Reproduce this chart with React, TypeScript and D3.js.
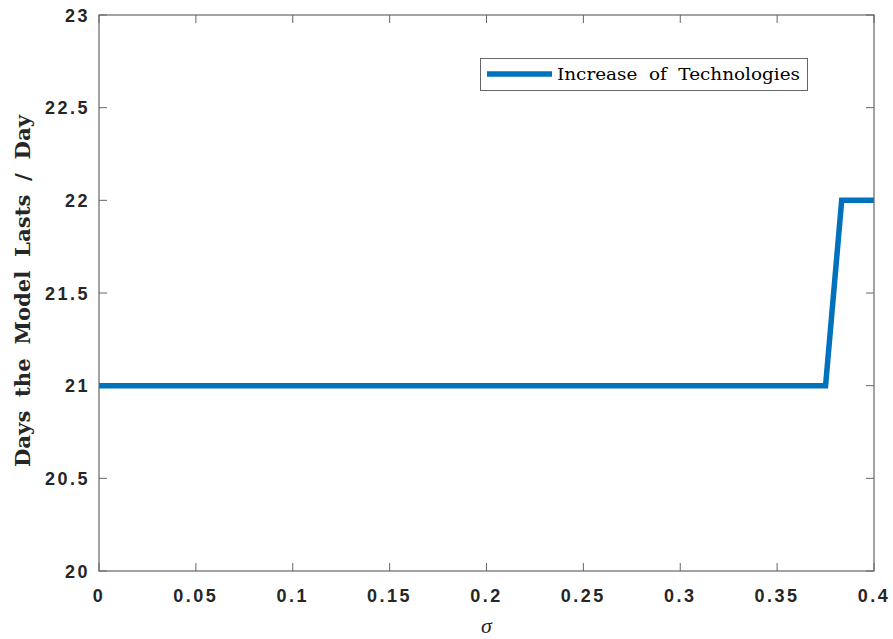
import * as d3 from 'd3';
import { useEffect, useRef } from 'react';

const sigma = [0, 0.375, 0.38333, 0.4];
const days = [21, 21, 22, 22];
const xTicks = [0, 0.05, 0.1, 0.15, 0.2, 0.25, 0.3, 0.35, 0.4];
const yTicks = [20, 20.5, 21, 21.5, 22, 22.5, 23];
const seriesName = 'Increase of Technologies';

const App = () => {
  const svgRef = useRef<any>();
  const width = 893;
  const height = 639;
  const marginLeft = 99;
  const marginRight = 19;
  const marginTop = 15;
  const marginBottom = 68;
  const plotW = width - marginLeft - marginRight;
  const plotH = height - marginTop - marginBottom;

  useEffect(() => {
    const svg = d3.select(svgRef.current);
    svg.selectAll('*').remove();

    const x = d3.scaleLinear().domain([0, 0.4]).range([marginLeft, marginLeft + plotW]);
    const y = d3.scaleLinear().domain([20, 23]).range([marginTop + plotH, marginTop]);
    const axisColor = '#666666';
    const textColor = '#262626';
    const tickLen = 8;

    svg.append('rect').attr('width', width).attr('height', height).attr('fill', '#ffffff');

    // ticks on all four sides, pointing inward
    const g = svg.append('g').attr('stroke', axisColor).attr('stroke-width', 1);
    xTicks.forEach((t) => {
      g.append('line').attr('x1', x(t)).attr('x2', x(t)).attr('y1', y(20)).attr('y2', y(20) - tickLen);
      g.append('line').attr('x1', x(t)).attr('x2', x(t)).attr('y1', y(23)).attr('y2', y(23) + tickLen);
    });
    yTicks.forEach((t) => {
      g.append('line').attr('x1', x(0)).attr('x2', x(0) + tickLen).attr('y1', y(t)).attr('y2', y(t));
      g.append('line').attr('x1', x(0.4)).attr('x2', x(0.4) - tickLen).attr('y1', y(t)).attr('y2', y(t));
    });

    // data line
    const line = d3
      .line<number>()
      .x((d, i) => x(sigma[i]))
      .y((d) => y(d));
    svg
      .append('path')
      .datum(days)
      .attr('d', line)
      .attr('fill', 'none')
      .attr('stroke', '#0072BD')
      .attr('stroke-width', 5.5)
      .attr('stroke-linejoin', 'miter');

    // box
    svg
      .append('rect')
      .attr('x', x(0))
      .attr('y', y(23))
      .attr('width', plotW)
      .attr('height', plotH)
      .attr('fill', 'none')
      .attr('stroke', axisColor)
      .attr('stroke-width', 1.2);

    const tickFont = 'Liberation Sans, Arial, sans-serif';
    svg
      .append('g')
      .selectAll('text')
      .data(xTicks)
      .enter()
      .append('text')
      .attr('x', (d) => x(d))
      .attr('y', 602)
      .attr('text-anchor', 'middle')
      .attr('font-family', tickFont)
      .attr('font-weight', 'bold')
      .attr('font-size', 18)
      .attr('letter-spacing', 2.5)
      .attr('fill', textColor)
      .text((d) => `${d}`);

    svg
      .append('g')
      .selectAll('text')
      .data(yTicks)
      .enter()
      .append('text')
      .attr('x', x(0) - 9)
      .attr('y', (d) => y(d) + 6.5)
      .attr('text-anchor', 'end')
      .attr('font-family', tickFont)
      .attr('font-weight', 'bold')
      .attr('font-size', 18)
      .attr('letter-spacing', 2.5)
      .attr('fill', textColor)
      .text((d) => `${d}`);

    // axis labels
    svg
      .append('text')
      .attr('x', (x(0) + x(0.4)) / 2)
      .attr('y', 633)
      .attr('text-anchor', 'middle')
      .attr('font-family', 'Liberation Serif, serif')
      .attr('font-style', 'italic')
      .attr('font-size', 22)
      .attr('fill', textColor)
      .text('σ');

    svg
      .append('text')
      .attr('transform', `translate(30,${(y(20) + y(23)) / 2 - 2}) rotate(-90)`)
      .attr('text-anchor', 'middle')
      .attr('font-family', 'DejaVu Serif, serif')
      .attr('font-weight', 'bold')
      .attr('font-size', 20)
      .attr('word-spacing', 6)
      .attr('textLength', 352)
      .attr('lengthAdjust', 'spacingAndGlyphs')
      .attr('fill', textColor)
      .text('Days the Model Lasts  / Day');

    // legend
    const leg = svg.append('g');
    leg
      .append('rect')
      .attr('x', 480.5)
      .attr('y', 58.5)
      .attr('width', 327)
      .attr('height', 32)
      .attr('fill', '#ffffff')
      .attr('stroke', axisColor)
      .attr('stroke-width', 1);
    leg
      .append('line')
      .attr('x1', 487)
      .attr('x2', 552)
      .attr('y1', 74)
      .attr('y2', 74)
      .attr('stroke', '#0072BD')
      .attr('stroke-width', 5.5);
    leg
      .append('text')
      .attr('x', 557)
      .attr('y', 80)
      .attr('font-family', 'DejaVu Serif, serif')
      .attr('font-size', 16)
      .attr('word-spacing', 5)
      .attr('textLength', 243)
      .attr('lengthAdjust', 'spacingAndGlyphs')
      .attr('fill', '#000000')
      .text(seriesName);
  }, []);

  return <svg ref={svgRef} width={width} height={height} style={{ display: 'block', position: 'absolute', left: 0, top: 0 }} />;
};

export default App;
